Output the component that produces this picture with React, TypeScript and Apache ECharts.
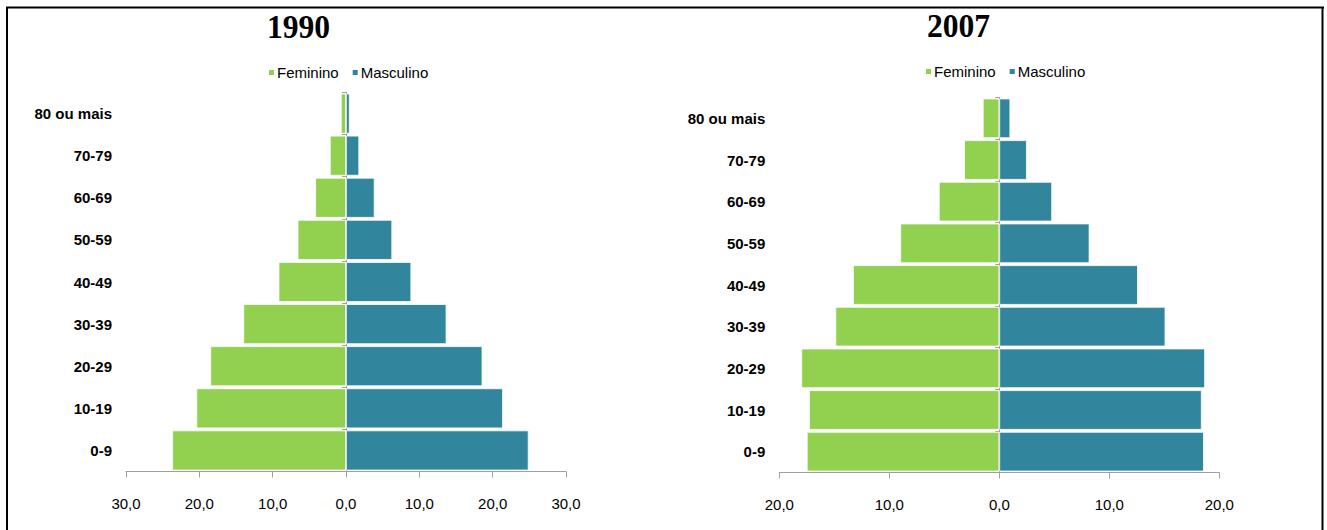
import React, { useEffect, useRef } from "react";
import * as echarts from "echarts";

const categories = ["0-9", "10-19", "20-29", "30-39", "40-49", "50-59", "60-69", "70-79", "80 ou mais"];
const feminino1990 = [23.7, 20.4, 18.5, 14.0, 9.2, 6.6, 4.2, 2.2, 0.7];
const masculino1990 = [24.9, 21.4, 18.6, 13.7, 8.9, 6.3, 3.9, 1.8, 0.5];
const feminino2007 = [17.5, 17.3, 18.0, 14.9, 13.3, 9.0, 5.5, 3.2, 1.5];
const masculino2007 = [18.6, 18.4, 18.7, 15.1, 12.6, 8.2, 4.8, 2.5, 1.0];
const titles = ["1990", "2007"];
const seriesNames = ["Feminino", "Masculino"];

const GREEN = "#92D050";
const BLUE = "#31859C";
const GRAY = "#A0A0A0";
const SANS = "'Liberation Sans', Arial, sans-serif";

const fmt = (v: number) => Math.abs(v).toFixed(1).replace(".", ",");

export default function App() {
  const ref = useRef<HTMLDivElement>(null);
  useEffect(() => {
    if (!ref.current) return;
    const chart = echarts.init(ref.current, undefined, { renderer: "svg" });
    const grids = [
      { left: 126, top: 92.5, width: 440, height: 379, max: 30, titleX: 298.5, titleY: 27, legendLeft: 267, legendTop: 65 },
      { left: 779.3, top: 97.5, width: 440, height: 375, max: 20, titleX: 958.5, titleY: 26, legendLeft: 924, legendTop: 64 },
    ];
    const data = [
      [feminino1990, masculino1990],
      [feminino2007, masculino2007],
    ];
    const option: any = {
      animation: false,
      backgroundColor: "#ffffff",
      grid: grids.map((g) => ({ left: g.left, top: g.top, width: g.width, height: g.height, containLabel: false })),
      legend: grids.map((g) => ({
        left: g.legendLeft,
        top: g.legendTop,
        icon: "rect",
        itemWidth: 7,
        itemHeight: 7,
        itemGap: 12,
        padding: 0,
        data: seriesNames,
        textStyle: { fontFamily: SANS, fontSize: 15, color: "#000", padding: [0, 0, 0, -3] },
      })),
      xAxis: grids.map((g, i) => ({
        type: "value",
        gridIndex: i,
        min: -g.max,
        max: g.max,
        interval: 10,
        splitLine: { show: false },
        axisLine: { show: true, lineStyle: { color: GRAY, width: 1 } },
        axisTick: { show: true, length: 6, lineStyle: { color: GRAY } },
        axisLabel: { formatter: fmt, fontFamily: SANS, fontSize: 15, color: "#000", margin: 24 },
      })),
      yAxis: [0, 1].flatMap((i) => [
        {
          type: "category",
          gridIndex: i,
          data: categories,
          position: "left",
          axisLine: { show: false, onZero: false },
          axisTick: { show: false },
          axisLabel: { fontFamily: SANS, fontSize: 15, fontWeight: "bold", color: "#000", margin: 14 },
        },
        {
          type: "category",
          gridIndex: i,
          data: categories,
          position: "left",
          axisLine: { show: true, onZero: true, lineStyle: { color: GRAY, width: 1 } },
          axisTick: { show: true, length: 4, lineStyle: { color: GRAY } },
          axisLabel: { show: false },
        },
      ]),
      series: [0, 1].flatMap((i) => [
        {
          name: seriesNames[0],
          type: "bar",
          xAxisIndex: i,
          yAxisIndex: i * 2,
          stack: "pop" + i,
          barCategoryGap: "5%",
          itemStyle: { color: GREEN, borderColor: "#ffffff", borderWidth: 0.8 },
          data: data[i][0].map((v) => -v),
        },
        {
          name: seriesNames[1],
          type: "bar",
          xAxisIndex: i,
          yAxisIndex: i * 2,
          stack: "pop" + i,
          barCategoryGap: "5%",
          itemStyle: { color: BLUE, borderColor: "#ffffff", borderWidth: 0.8 },
          data: data[i][1],
        },
      ]),
      graphic: [
        { type: "line", shape: { x1: 6, y1: 7.5, x2: 1324, y2: 7.5 }, style: { stroke: "#000", lineWidth: 2 } },
        { type: "line", shape: { x1: 7, y1: 7, x2: 7, y2: 530 }, style: { stroke: "#000", lineWidth: 2 } },
        { type: "line", shape: { x1: 1322.5, y1: 7, x2: 1322.5, y2: 530 }, style: { stroke: "#000", lineWidth: 2 } },
        ...grids.map((g, i) => ({
          type: "text",
          x: g.titleX,
          y: g.titleY,
          scaleX: 0.93,
          style: {
            text: titles[i],
            font: "bold 34px 'Liberation Serif', 'DejaVu Serif', serif",
            fill: "#000",
            align: "center",
            verticalAlign: "middle",
          },
        })),
      ],
    };
    chart.setOption(option);
    return () => chart.dispose();
  }, []);
  return (
    <div
      ref={ref}
      style={{ position: "absolute", left: 0, top: 0, width: 1327, height: 530 }}
    />
  );
}
